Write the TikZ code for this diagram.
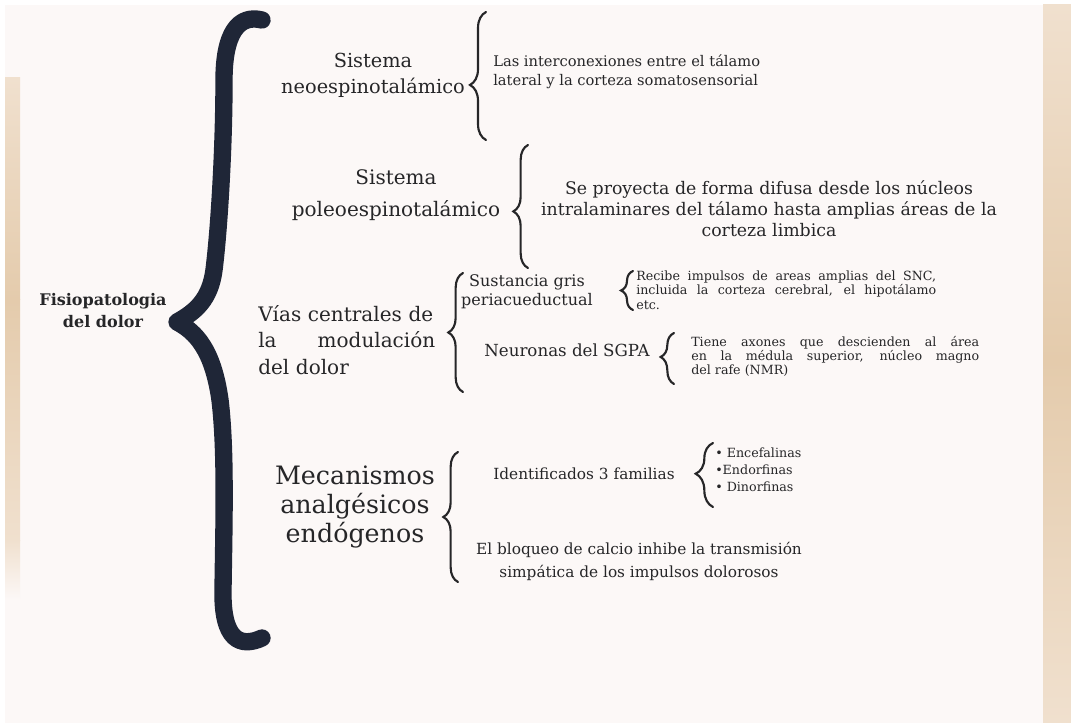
\documentclass[tikz,border=0pt]{standalone}
\usepackage{fontspec}
\setmainfont{DejaVu Serif}
\usetikzlibrary{decorations.pathreplacing}

\definecolor{paper}{RGB}{252,248,247}
\definecolor{sand}{RGB}{228,203,172}
\definecolor{sandlight}{RGB}{240,224,206}
\definecolor{ink}{RGB}{38,38,40}
\definecolor{navy}{RGB}{31,38,55}

\begin{document}
\begin{tikzpicture}[x=0.75pt,y=0.75pt,yscale=-1,xscale=1,
  txt/.style={inner sep=0.75pt, color=ink, align=center},
  curly/.style={decorate, decoration={brace, amplitude=#1, aspect=0.5}, line width=1.6pt, color=ink, line cap=round},
  curly/.default=10pt,
  bigbrace/.style={draw=navy, line width=13pt, line cap=round, line join=round}]
%set diagram size
\useasboundingbox (0,0) rectangle (1071,723);

%Shape: Background
\fill [white] (0,0) rectangle (1071,723);
\fill [paper] (5,5) rectangle (1043,723);
\shade [top color=sandlight, bottom color=sand] (5,78) rectangle (20,300);
\shade [top color=sand, bottom color=sandlight] (5,300) rectangle (20,540);
\shade [top color=sandlight, bottom color=paper] (5,540) rectangle (20,600);
\shade [top color=sandlight, bottom color=sand] (1043,5) rectangle (1071,360);
\shade [top color=sand, bottom color=sandlight] (1043,360) rectangle (1071,723);

%Shape: Big Brace
\draw [bigbrace] (262,20) .. controls (238,14) and (224,34) .. (224,80) .. controls (224,150) and (219,230) .. (214,270) .. controls (210,300) and (195,312) .. (177,322) .. controls (196,332) and (213,350) .. (220,400) .. controls (226,450) and (224,520) .. (223,590) .. controls (222,640) and (240,648) .. (262,638) ;

% Text Node
\node [txt, font=\fontsize{12}{16.5}\selectfont\bfseries] (root) at (103,311) {Fisiopatologia\\del dolor};

% Text Node
\node [txt, font=\fontsize{14.5}{19.5}\selectfont] (neo) at (373,75) {Sistema\\neoespinotalámico};
% Text Node
\node [txt, anchor=west, align=left, font=\fontsize{11}{14.25}\selectfont] (neodesc) at (492,72) {Las interconexiones entre el tálamo\\lateral y la corteza somatosensorial};
%Shape: Brace
\coordinate (b1s) at (486,140);
\coordinate (b1e) at (486,12);
\draw [curly=12pt, decoration={aspect=0.43}] (b1s) -- (b1e);

% Text Node
\node [txt, font=\fontsize{15}{24}\selectfont] (paleo) at (396,195) {Sistema\\poleoespinotalámico};
% Text Node
\node [txt, font=\fontsize{13}{15.75}\selectfont] (paleodesc) at (769,209) {Se proyecta de forma difusa desde los núcleos\\intralaminares del tálamo hasta amplias áreas de la\\corteza limbica};
%Shape: Brace
\coordinate (b2s) at (528,268);
\coordinate (b2e) at (528,145);
\draw [curly=11pt, decoration={aspect=0.46}] (b2s) -- (b2e);

% Text Node
\node [txt, anchor=west, align=left, text width=132.75pt, font=\fontsize{15}{20}\selectfont] (vias) at (257,340) {Vías centrales de\\la\hfill modulación\\del dolor};
%Shape: Brace
\coordinate (b3s) at (463,392);
\coordinate (b3e) at (463,273);
\draw [curly=11pt] (b3s) -- (b3e);

% Text Node
\node [txt, font=\fontsize{12}{14.25}\selectfont] (pag) at (527,292) {Sustancia gris\\periacueductual};
% Text Node
\node [txt, anchor=west, align=justify, text width=225pt, font=\fontsize{9.5}{10.9}\selectfont] (pagdesc) at (635,290) {Recibe impulsos de areas amplias del SNC,\linebreak incluida la corteza cerebral, el hipotálamo\linebreak etc.};
%Shape: Brace
\coordinate (b3as) at (633,310);
\coordinate (b3ae) at (633,271);
\draw [curly=9pt] (b3as) -- (b3ae);

% Text Node
\node [txt, font=\fontsize{12.5}{15}\selectfont] (sgpa) at (567,350) {Neuronas del SGPA};
% Text Node
\node [txt, anchor=west, align=justify, text width=216pt, font=\fontsize{9.5}{10.5}\selectfont] (sgpadesc) at (690,356) {Tiene axones que descienden al área\linebreak en la médula superior, núcleo magno\linebreak del rafe (NMR)};
%Shape: Brace
\coordinate (b3bs) at (674,384);
\coordinate (b3be) at (674,333);
\draw [curly=10pt, decoration={aspect=0.53}] (b3bs) -- (b3be);

% Text Node
\node [txt, font=\fontsize{19}{21.75}\selectfont] (meca) at (355,507) {Mecanismos\\analgésicos\\endógenos};
%Shape: Brace
\coordinate (b4s) at (458,582);
\coordinate (b4e) at (458,452);
\draw [curly=11pt] (b4s) -- (b4e);

% Text Node
\node [txt, font=\fontsize{11.5}{14}\selectfont] (fam) at (584,474) {Identificados 3 familias};
% Text Node
\node [txt, anchor=west, align=left, font=\fontsize{9.5}{12.75}\selectfont] (famlist) at (714,470) {• Encefalinas\\•Endorfinas\\• Dinorfinas};
%Shape: Brace
\coordinate (b4as) at (713,507);
\coordinate (b4ae) at (713,443);
\draw [curly=13pt, decoration={aspect=0.52}] (b4as) -- (b4ae);

% Text Node
\node [txt, font=\fontsize{11.5}{17.25}\selectfont] (calcio) at (639,561) {El bloqueo de calcio inhibe la transmisión\\simpática de los impulsos dolorosos};

\end{tikzpicture}
\end{document}
